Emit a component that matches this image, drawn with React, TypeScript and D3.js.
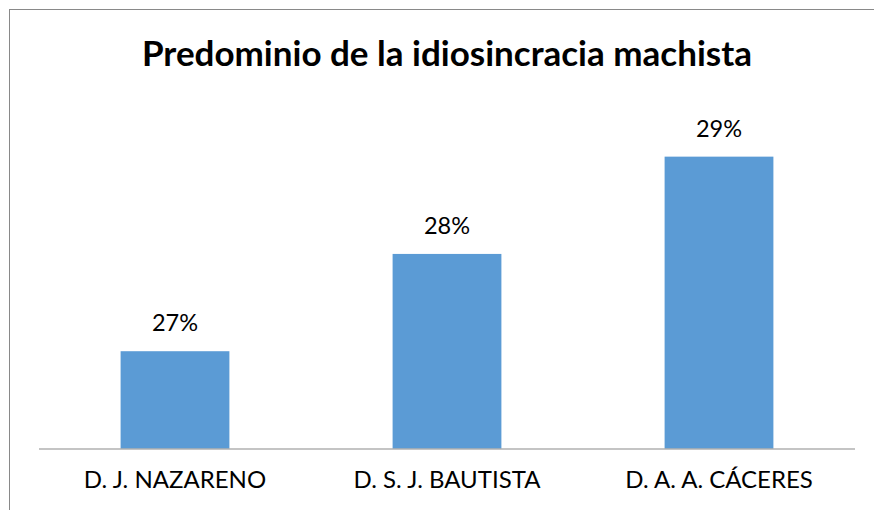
import { useEffect, useRef } from 'react';
import * as d3 from 'd3';

const categories = ['D. J. NAZARENO', 'D. S. J. BAUTISTA', 'D. A. A. CÁCERES'];
const values = [0.27, 0.28, 0.29];
const yDomain = [0.26, 0.295];
const title = 'Predominio de la idiosincracia machista';

export default function App() {
  const svgRef = useRef<SVGSVGElement | null>(null);
  const width = 874;
  const height = 510;
  const margin = { top: 108, right: 19, bottom: 61.5, left: 39 };
  const font = 'Lato, "Open Sans", sans-serif';

  useEffect(() => {
    if (!svgRef.current) return;
    const innerW = width - margin.left - margin.right;
    const innerH = height - margin.top - margin.bottom;

    const x = d3.scaleBand().domain(categories).range([0, innerW]).paddingInner(0.6).paddingOuter(0.3);
    const y = d3.scaleLinear().domain(yDomain).range([innerH, 0]);

    const svg = d3.select(svgRef.current);
    svg.attr('width', width).attr('height', height).selectAll('*').remove();

    // chart frame
    svg.append('rect')
      .attr('x', 9.5).attr('y', 9.5)
      .attr('width', width + 20).attr('height', height + 20)
      .attr('fill', '#fff').attr('stroke', '#898989').attr('stroke-width', 1);

    svg.append('text')
      .attr('x', 447).attr('y', 66)
      .attr('text-anchor', 'middle')
      .attr('font-family', font).attr('font-weight', 700).attr('font-size', 35)
      .attr('fill', '#000')
      .text(title);

    const g = svg.append('g').attr('transform', `translate(${margin.left},${margin.top})`);

    g.selectAll('rect.bar')
      .data(values)
      .join('rect')
      .attr('class', 'bar')
      .attr('x', (_, i) => x(categories[i])!)
      .attr('y', (d) => y(d))
      .attr('width', x.bandwidth())
      .attr('height', (d) => innerH - y(d))
      .attr('fill', '#5B9BD5');

    // value labels
    g.selectAll('text.val')
      .data(values)
      .join('text')
      .attr('class', 'val')
      .attr('x', (_, i) => x(categories[i])! + x.bandwidth() / 2)
      .attr('y', (d) => y(d) - 20)
      .attr('text-anchor', 'middle')
      .attr('font-family', font).attr('font-size', 23.5)
      .attr('fill', '#000')
      .text((d) => d3.format('.0%')(d));

    const xAxis = g.append('g').attr('transform', `translate(0,${innerH})`)
      .call(d3.axisBottom(x).tickSize(0).tickPadding(22));
    xAxis.select('.domain').attr('stroke', '#898989').attr('d', `M0,0.5H${innerW}`);
    xAxis.selectAll('text').attr('font-family', font).attr('font-size', 24).attr('fill', '#000');
  }, []);

  return (
    <div style={{ position: 'absolute', left: 0, top: 0 }}>
      <svg ref={svgRef} style={{ display: 'block' }} />
    </div>
  );
}
